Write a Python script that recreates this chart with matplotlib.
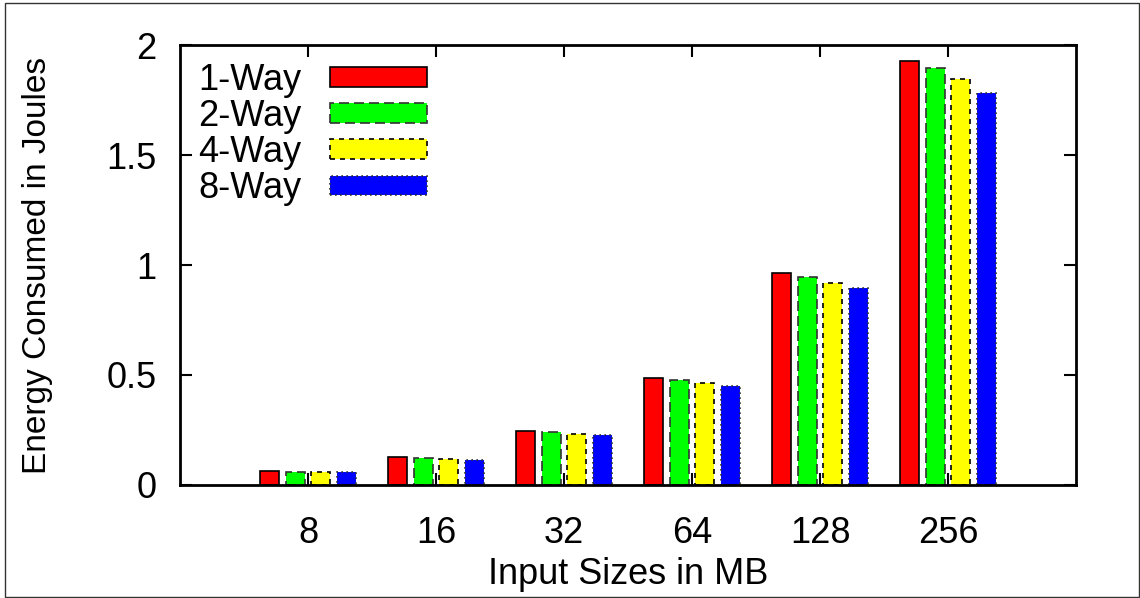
import matplotlib.pyplot as plt
import numpy as np
from matplotlib.patches import Rectangle

plt.rcParams["font.family"] = ["Liberation Sans", "DejaVu Sans"]

sizes = ["8", "16", "32", "64", "128", "256"]
series_names = ["1-Way", "2-Way", "4-Way", "8-Way"]
one_way = [0.062, 0.125, 0.244, 0.485, 0.962, 1.926]
two_way = [0.061, 0.121, 0.240, 0.477, 0.944, 1.894]
four_way = [0.059, 0.117, 0.233, 0.464, 0.918, 1.844]
eight_way = [0.057, 0.113, 0.227, 0.450, 0.895, 1.783]

colors = ["#ff0000", "#00ff00", "#ffff00", "#0000ff"]
edge_styles = ["solid", (0, (6, 3)), (0, (3, 3)), (0, (1, 2))]
edge_colors = ["black", "#333333", "black", "#333333"]

fig = plt.figure(figsize=(11.4, 5.98), dpi=100)
ax = fig.add_axes([0.1579, 0.189, 0.786, 0.7357])

x = np.arange(len(sizes))
slot = 0.2
width = 0.75 * slot
for i, vals in enumerate([one_way, two_way, four_way, eight_way]):
    ax.bar(
        x + (i - 1.5) * slot,
        vals,
        width=width,
        color=colors[i],
        edgecolor=edge_colors[i],
        linestyle=edge_styles[i],
        linewidth=1.2,
        label=series_names[i],
    )

ax.set_xlim(-1, len(sizes))
ax.set_ylim(0, 2)
ax.set_xticks(x)
ax.set_xticklabels(sizes)
ax.set_yticks([0, 0.5, 1, 1.5, 2])
ax.set_yticklabels(["0", "0.5", "1", "1.5", "2"])
ax.tick_params(
    direction="in", length=8.5, width=1.5, labelsize=26,
    top=True, right=True,
)
ax.tick_params(axis="x", pad=22)
ax.tick_params(axis="y", pad=17)
for s in ax.spines.values():
    s.set_linewidth(2)

ax.set_xlabel("Input Sizes in MB", fontsize=26, labelpad=5)
ax.set_ylabel("Energy Consumed in Joules", fontsize=24)
ax.yaxis.set_label_coords(-0.142, 0.5)

ax.legend(
    loc="upper left",
    frameon=False,
    fontsize=26,
    markerfirst=False,
    handlelength=2.7,
    handleheight=0.47,
    handletextpad=0.78,
    labelspacing=0.03,
    borderaxespad=0.1,
)

fig.patches.append(
    Rectangle((5 / 1140, 1 / 598), 1134 / 1140, 594 / 598,
              transform=fig.transFigure, fill=False,
              edgecolor="#333333", linewidth=1)
)

fig.savefig("out.png", dpi=100)
